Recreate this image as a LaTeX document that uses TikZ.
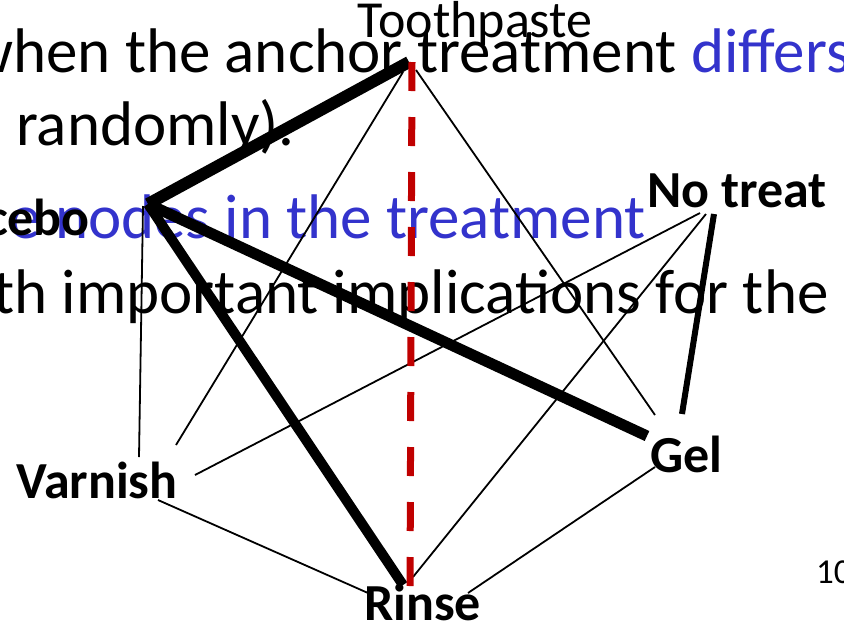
\documentclass[tikz,border=0pt]{standalone}
\usepackage{fontspec}
\setmainfont{Carlito}
\usetikzlibrary{positioning}
\definecolor{slideblue}{RGB}{51,51,204}
\definecolor{dashred}{RGB}{192,0,0}

\begin{document}
\begin{tikzpicture}[x=1pt, y=-1pt,
    bodytxt/.style={inner sep=0pt, font=\fontsize{63}{70}\selectfont},
    lbl/.style={inner sep=0pt, anchor=base west, font=\fontsize{52}{56}\selectfont\bfseries},
    thinedge/.style={line width=1.8pt}]
    \useasboundingbox (0,0) rectangle (844,622);
    \clip (0,0) rectangle (844,622);

    % slide text behind the network
    \node[bodytxt, anchor=base west] (line1) at (-32,72) {when the anchor treatment \textcolor{slideblue}{differs}};
    \node[bodytxt, anchor=base west] (line2) at (16,145) {randomly).};
    \node[bodytxt, anchor=base east, text=slideblue] (line3) at (646,238) {e nodes in the treatment};
    \node[bodytxt, anchor=base east] (line4) at (829,313) {th important implications for the};
    \node[inner sep=0pt, anchor=base west, font=\fontsize{35}{40}\selectfont] (pagenum) at (816,583) {10};

    % attach points
    \coordinate (tp) at (409,62);
    \coordinate (tp-a) at (403,72);
    \coordinate (tp-b) at (416,70);
    \coordinate (tp-d) at (412,62);
    \coordinate (pl) at (148,204);
    \coordinate (pl-a) at (143,206);
    \coordinate (nt) at (714,214);
    \coordinate (nt-a) at (700,213);
    \coordinate (nt-b) at (706,214);
    \coordinate (ge) at (647,436);
    \coordinate (ge-a) at (655,415);
    \coordinate (ge-b) at (682,414);
    \coordinate (ge-c) at (655,467);
    \coordinate (va-a) at (139,457);
    \coordinate (va-b) at (176,445);
    \coordinate (va-c) at (195,475);
    \coordinate (va-d) at (158,500);
    \coordinate (ri) at (403,585);
    \coordinate (ri-a) at (413,577);
    \coordinate (ri-b) at (368,593);
    \coordinate (ri-c) at (468,593);
    \coordinate (ri-d) at (410,593);

    % thin edges
    \draw[thinedge] (tp-a) -- (va-b);
    \draw[thinedge] (tp-b) -- (ge-a);
    \draw[thinedge] (pl-a) -- (va-a);
    \draw[thinedge] (nt-a) -- (va-c);
    \draw[thinedge] (nt-b) -- (ri-a);
    \draw[thinedge] (va-d) -- (ri-b);
    \draw[thinedge] (ge-c) -- (ri-c);

    % heavy edges
    \draw[line width=12pt] (tp) -- (pl);
    \draw[line width=11pt] (pl) -- (ge);
    \draw[line width=10pt] (pl) -- (ri);
    \draw[line width=6pt] (nt) -- (ge-b);
    \draw[dashred, line width=7pt, dash pattern=on 29pt off 26pt] (tp-d) -- (ri-d);

    % treatment labels
    \node[inner sep=0pt, anchor=base, font=\fontsize{52}{56}\selectfont] (toothpaste) at (475,37) {Toothpaste};
    \node[lbl, anchor=base east] (placebo) at (90,235) {cebo};
    \node[lbl] (notreat) at (647,207) {No treat};
    \node[lbl] (gel) at (650,472) {Gel};
    \node[lbl] (varnish) at (16,498) {Varnish};
    \node[lbl] (rinse) at (364,620) {Rinse};
\end{tikzpicture}
\end{document}
